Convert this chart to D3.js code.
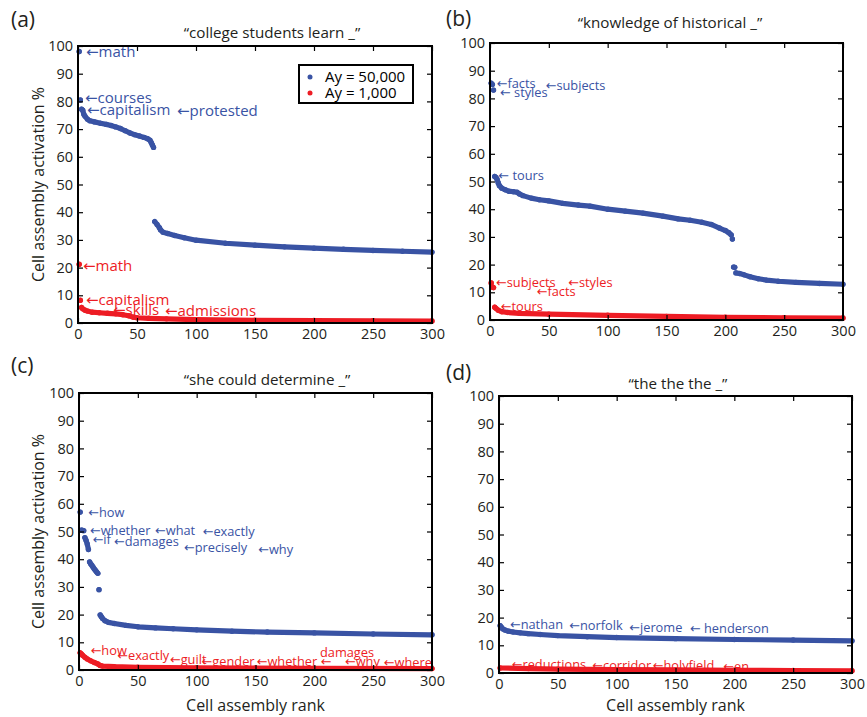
<!DOCTYPE html>
<html>
<head>
<meta charset="utf-8">
<script src="https://cdn.jsdelivr.net/npm/d3@7"></script>
<style>
  body { margin: 0; background: #fff; }
  text { font-family: "Open Sans", "DejaVu Sans", sans-serif; }
</style>
</head>
<body>
<svg id="fig" width="867" height="717"></svg>
<script>
// Axis ticks shared by every panel
const xTicks = [0, 50, 100, 150, 200, 250, 300];
const yTicks = [0, 10, 20, 30, 40, 50, 60, 70, 80, 90, 100];
const legendLabels = ["Ay = 50,000", "Ay = 1,000"];
const panelTags = ["(a)", "(b)", "(c)", "(d)"];
const panelTitles = ["\u201Ccollege students learn _\u201D", "\u201Cknowledge of historical _\u201D",
                     "\u201Cshe could determine _\u201D", "\u201Cthe the the _\u201D"];
const xAxisTitle = "Cell assembly rank";
const yAxisTitle = "Cell assembly activation %";

// Activation (%) by cell assembly rank; null marks a break between runs of dots
const aBlue = [[1, 98], null, [2, 80.5], null, [3, 77.2], [4, 76.8], [5, 75.3], [6, 74.6], [8, 73.6], [10, 73],
  [14, 72.6], [19, 72.1], [24, 71.7], [28, 71.3], [32, 70.8], [36, 70.2], [40, 69.4], [44, 68.6], [48, 68],
  [52, 67.5], [56, 67], [59, 66.5], [61, 66], [62, 65.2], [63, 64.3], [64, 63.4], null,
  [65, 36.6], [67, 35.6], [69, 34.4], [70, 33.6], [72, 32.8], [76, 32.3], [82, 31.6], [90, 30.8], [100, 29.9],
  [125, 28.8], [150, 28.1], [175, 27.5], [200, 27.0], [225, 26.6], [250, 26.2], [275, 25.9], [300, 25.6]];
const aRed = [[1, 21.2], null, [2, 8.2], null, [3, 5.6], [4, 5.1], [6, 4.6], [8, 4.3], [12, 3.9], [18, 3.7],
  [25, 3.5], [32, 3.3], [38, 3.0], [43, 2.6], [47, 2.1], [50, 1.9], [60, 1.7], [75, 1.5], [100, 1.2],
  [150, 1.0], [200, 0.9], [250, 0.8], [300, 0.7]];

const bBlue = [[1, 85.5], [2, 85], null, [3, 83], null, [4, 51.8], [5, 51.5], [6, 50.8], [7, 49.5], [8, 48.5],
  [10, 47.6], [13, 47], [16, 46.5], [20, 46.3], [23, 46.1], [25, 45.5], [28, 44.9], [35, 44], [42, 43.4],
  [50, 43.0], [62, 42.1], [75, 41.5], [85, 41.1], [100, 40], [115, 39.3], [130, 38.6], [147, 37.5],
  [160, 36.5], [170, 36], [180, 35.3], [188, 34.5], [195, 33.2], [200, 32.3], [203, 31.5], [205, 30.7], null,
  [206, 29.2], null, [207, 19.1], [208, 19], null, [209, 17], [212, 16.8], [216, 16.3], [221, 15.6],
  [228, 14.9], [235, 14.4], [245, 14], [260, 13.6], [280, 13.2], [300, 12.9]];
const bRed = [[1, 13.4], null, [2, 11.9], [3, 11.7], null, [4, 4.6], [5, 4.2], [7, 3.5], [10, 3.0], [15, 2.7],
  [25, 2.4], [50, 2.1], [100, 1.7], [150, 1.3], [200, 1.0], [250, 0.8], [300, 0.7]];

const cBlue = [[1, 57], null, [2, 50.5], [3, 50.4], [4, 50.3], null, [5, 47.8], [6, 46.8], [7, 45.5], [8, 43.5],
  null, [9, 39], [10, 38.3], [11, 37.7], [12, 37.1], [13, 36.5], [14, 35.9], [15, 35.4], [16, 34.9], null,
  [17, 29], null, [18, 19.9], [19, 19.2], [20, 18.6], [22, 17.8], [25, 17.2], [30, 16.8], [40, 16.1],
  [50, 15.6], [65, 15.2], [80, 14.9], [100, 14.5], [130, 14.0], [160, 13.7], [200, 13.4], [250, 13.0], [300, 12.7]];
const cRed = [[1, 6.2], [2, 5.8], [3, 5.3], [5, 4.6], [7, 4.0], [10, 3.3], [13, 2.7], [16, 2.2], [18, 1.6],
  [20, 1.4], [30, 1.2], [50, 1.0], [100, 0.8], [150, 0.7], [200, 0.6], [300, 0.5]];

const dBlue = [[1, 17.1], [2, 16.5], [3, 16], [5, 15.5], [8, 15.1], [12, 14.8], [18, 14.5], [25, 14.2],
  [35, 13.9], [50, 13.5], [75, 13.1], [100, 12.8], [150, 12.4], [200, 12.1], [250, 11.9], [300, 11.6]];
const dRed = [[1, 1.8], [25, 1.6], [50, 1.4], [100, 1.2], [150, 1.1], [200, 1.0], [250, 0.9], [300, 0.8]];

// Word annotations: [text, rank, activation]
const aBlueWords = [["\u2190math", 6.8, 97.8], ["\u2190courses", 5.9, 81.2], ["\u2190capitalism", 7.6, 76.9],
  ["\u2190protested", 83.9, 76.5]];
const aRedWords = [["\u2190math", 4.2, 20.9], ["\u2190capitalism", 6.8, 8.3], ["\u2190skills", 29.7, 4.7],
  ["\u2190admissions", 73.7, 4.3]];
const bBlueWords = [["\u2190facts", 5.7, 85.4], ["\u2190subjects", 47.3, 84.8], ["\u2190 styles", 8.5, 82.3],
  ["\u2190 tours", 7.1, 52.2]];
const bRedWords = [["\u2190subjects", 5.1, 13.6], ["\u2190styles", 66.5, 13.6], ["\u2190facts", 39.7, 10.2],
  ["\u2190tours", 9.1, 4.8]];
const cBlueWords = [["\u2190how", 7.9, 56.9], ["\u2190whether", 9.3, 50.5], ["\u2190what", 64.6, 50.3],
  ["\u2190exactly", 105.1, 49.9], ["\u2190if", 11.6, 47.3], ["\u2190damages", 29.7, 46.3],
  ["\u2190precisely", 89.2, 44.3], ["\u2190why", 152.3, 43.7]];
const cRedWords = [["\u2190how", 9.9, 7.2], ["\u2190exactly", 32.5, 5.4], ["\u2190guilt", 77.3, 4.0],
  ["\u2190gender", 104.2, 3.2], ["\u2190whether", 151, 3.1], ["\u2190", 205.4, 3.1], ["damages", 204.8, 6.4],
  ["\u2190why", 226, 3.0], ["\u2190where", 259, 2.6]];
const dBlueWords = [["\u2190nathan", 9.3, 17.7], ["\u2190norfolk", 59.7, 17.1], ["\u2190jerome", 110.7, 16.5],
  ["\u2190 henderson", 162.3, 16.1]];
const dRedWords = [["\u2190reductions", 10.8, 3.2], ["\u2190corridor", 79.3, 2.9], ["\u2190holyfield", 130.6, 2.7],
  ["\u2190en", 190.6, 2.3]];

const BLUE = "#3953a4";
const RED = "#ed1c24";
const INK = "#231f20";

const panels = [
  { tag: panelTags[0], title: panelTitles[0], blue: aBlue, red: aRed, blueWords: aBlueWords, redWords: aRedWords,
    box: { l: 78, r: 432, t: 46, b: 323 }, tagPos: [11, 27], titlePos: [272, 38], wordSize: 15,
    yTitle: true, xTitle: false, legend: true },
  { tag: panelTags[1], title: panelTitles[1], blue: bBlue, red: bRed, blueWords: bBlueWords, redWords: bRedWords,
    box: { l: 490, r: 843, t: 43, b: 320 }, tagPos: [446, 26], titlePos: [670, 28], wordSize: 12.8,
    yTitle: false, xTitle: false, legend: false },
  { tag: panelTags[2], title: panelTitles[2], blue: cBlue, red: cRed, blueWords: cBlueWords, redWords: cRedWords,
    box: { l: 79, r: 432, t: 393, b: 670 }, tagPos: [11, 373], titlePos: [267, 385], wordSize: 12.8,
    yTitle: true, xTitle: true, legend: false },
  { tag: panelTags[3], title: panelTitles[3], blue: dBlue, red: dRed, blueWords: dBlueWords, redWords: dRedWords,
    box: { l: 499, r: 852, t: 396, b: 673 }, tagPos: [446, 380], titlePos: [678, 389], wordSize: 12.8,
    yTitle: false, xTitle: true, legend: false }
];

const svg = d3.select("#fig");

panels.forEach(p => {
  const { l, r, t, b } = p.box;
  const x = d3.scaleLinear().domain([0, 300]).range([l, r]);
  const y = d3.scaleLinear().domain([0, 100]).range([b, t]);
  const g = svg.append("g");

  // panel tag and quoted context
  g.append("text").attr("x", p.tagPos[0]).attr("y", p.tagPos[1])
    .attr("font-size", 21).attr("fill", INK).text(p.tag);
  g.append("text").attr("x", p.titlePos[0]).attr("y", p.titlePos[1])
    .attr("text-anchor", "middle").attr("font-size", 15.2).attr("fill", INK).text(p.title);

  // data: thick runs of dots plus the dots themselves
  const line = d3.line().defined(d => d).x(d => x(d[0])).y(d => y(d[1]));
  [[p.blue, BLUE], [p.red, RED]].forEach(([series, color]) => {
    g.append("path").attr("d", line(series)).attr("fill", "none").attr("stroke", color)
      .attr("stroke-width", 5.2).attr("stroke-linecap", "round").attr("stroke-linejoin", "round");
    g.selectAll(null).data(series.filter(d => d)).join("circle")
      .attr("cx", d => x(d[0])).attr("cy", d => y(d[1])).attr("r", 2.7).attr("fill", color);
  });

  // word annotations
  [[p.blueWords, BLUE], [p.redWords, RED]].forEach(([words, color]) => {
    g.selectAll(null).data(words).join("text")
      .attr("x", d => x(d[1])).attr("y", d => y(d[2])).attr("dy", "0.36em")
      .attr("font-size", p.wordSize).attr("fill", color).text(d => d[0]);
  });

  // axes with inward ticks on all four sides
  const fmt = d3.format("d");
  g.append("g").attr("transform", `translate(0,${b})`)
    .call(d3.axisBottom(x).tickValues(xTicks).tickSize(-5).tickPadding(6).tickFormat(fmt));
  g.append("g").attr("transform", `translate(${l},0)`)
    .call(d3.axisLeft(y).tickValues(yTicks).tickSize(-5).tickPadding(5).tickFormat(fmt));
  g.append("g").attr("transform", `translate(0,${t})`)
    .call(d3.axisTop(x).tickValues(xTicks).tickSize(-5).tickFormat(""));
  g.append("g").attr("transform", `translate(${r},0)`)
    .call(d3.axisRight(y).tickValues(yTicks).tickSize(-5).tickFormat(""));
  g.selectAll(".domain").remove();
  g.selectAll(".tick line").attr("stroke", "#000").attr("stroke-width", 1.2);
  g.selectAll(".tick text").attr("font-size", 14.5).attr("fill", INK)
    .attr("font-family", "\"Open Sans\", sans-serif");

  g.append("rect").attr("x", l).attr("y", t).attr("width", r - l).attr("height", b - t)
    .attr("fill", "none").attr("stroke", "#000").attr("stroke-width", 2);

  if (p.yTitle) {
    g.append("text").attr("transform", `translate(44,${(t + b) / 2}) rotate(-90)`)
      .attr("text-anchor", "middle").attr("font-size", 16).attr("fill", INK).text(yAxisTitle);
  }
  if (p.xTitle) {
    g.append("text").attr("x", (l + r) / 2).attr("y", 711)
      .attr("text-anchor", "middle").attr("font-size", 16).attr("fill", INK).text(xAxisTitle);
  }

  if (p.legend) {
    const lg = g.append("g");
    lg.append("rect").attr("x", 299).attr("y", 65).attr("width", 114).attr("height", 38)
      .attr("fill", "#fff").attr("stroke", "#000").attr("stroke-width", 2);
    [BLUE, RED].forEach((c, i) => {
      lg.append("circle").attr("cx", 310).attr("cy", 77 + i * 16).attr("r", 2.5).attr("fill", c);
      lg.append("text").attr("x", 325).attr("y", 77 + i * 16).attr("dy", "0.36em")
        .attr("font-size", 15).attr("fill", "#000").text(legendLabels[i]);
    });
  }
});
</script>
</body>
</html>
